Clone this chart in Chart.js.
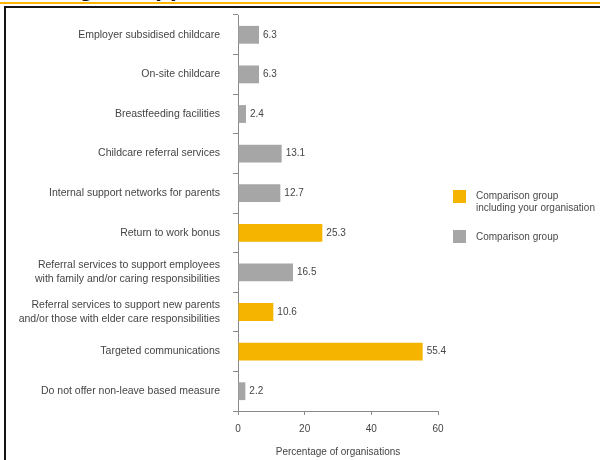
<!DOCTYPE html>
<html>
<head>
<meta charset="utf-8">
<script src="https://cdn.jsdelivr.net/npm/chart.js@4/dist/chart.umd.min.js"></script>
<style>
  html, body { margin: 0; padding: 0; background: #fff; }
  #wrap { position: relative; width: 600px; height: 460px; overflow: hidden; background: #fff; font-family: "Liberation Sans", Arial, sans-serif; }
  #title { position: absolute; left: -17px; top: -26px; font: bold 24px "Liberation Sans", Arial, sans-serif; color: #111; white-space: nowrap; word-spacing: 27px; }
  #topline { position: absolute; left: 0; top: 2px; width: 600px; height: 2px; background: #ffb600; }
  #frame { position: absolute; left: 4px; top: 6px; width: 700px; height: 600px; border-left: 2px solid #151515; border-top: 2px solid #151515; box-sizing: border-box; }
  #chart { position: absolute; left: 0; top: 0; }
  .lg { position: absolute; font-size: 10px; color: #4a4a4a; line-height: 12px; }
  .sw { position: absolute; width: 13px; height: 13px; }
</style>
</head>
<body>
<div id="wrap">
  <div id="title">Parenting support</div>
  <div id="topline"></div>
  <div id="frame"></div>
  <canvas id="chart" width="600" height="460"></canvas>
  <div class="sw" style="left:453px;top:190px;background:#f4b400"></div>
  <div class="lg" style="left:476px;top:190px">Comparison group<br>including your organisation</div>
  <div class="sw" style="left:453px;top:230px;background:#a6a6a6"></div>
  <div class="lg" style="left:476px;top:231px">Comparison group</div>
</div>
<script>
const categories = [
  "Employer subsidised childcare",
  "On-site childcare",
  "Breastfeeding facilities",
  "Childcare referral services",
  "Internal support networks for parents",
  "Return to work bonus",
  ["Referral services to support employees", "with family and/or caring responsibilities"],
  ["Referral services to support new parents", "and/or those with elder care responsibilities"],
  "Targeted communications",
  "Do not offer non-leave based measure"
];
const yourOrgGroup = [null, null, null, null, null, 25.3, null, 10.6, 55.4, null];
const comparisonGroup = [6.3, 6.3, 2.4, 13.1, 12.7, null, 16.5, null, null, 2.2];
const xTicks = [0, 20, 40, 60];
const xTitle = "Percentage of organisations";

const FONT = "'Liberation Sans', Arial, sans-serif";
const TEXT = "#454545";
const AXIS = "#8a8a8a";

const valueLabels = {
  id: "valueLabels",
  afterDatasetsDraw(chart) {
    const ctx = chart.ctx;
    ctx.save();
    ctx.font = "10px " + FONT;
    ctx.fillStyle = TEXT;
    ctx.textBaseline = "middle";
    ctx.textAlign = "left";
    chart.data.datasets.forEach((ds, di) => {
      const meta = chart.getDatasetMeta(di);
      meta.data.forEach((el, i) => {
        const v = ds.data[i];
        if (v === null || v === undefined) return;
        ctx.fillText(v.toFixed(1), el.x + 4, el.y);
      });
    });
    ctx.restore();
  }
};

new Chart(document.getElementById("chart"), {
  type: "bar",
  data: {
    labels: categories,
    datasets: [
      { label: "Comparison group including your organisation", data: yourOrgGroup, backgroundColor: "#f4b400" },
      { label: "Comparison group", data: comparisonGroup, backgroundColor: "#a6a6a6" }
    ]
  },
  options: {
    indexAxis: "y",
    responsive: false,
    animation: false,
    devicePixelRatio: 1,
    layout: { padding: { top: 15, right: 162, left: 0, bottom: 0 } },
    datasets: { bar: { grouped: false, categoryPercentage: 1, barPercentage: 0.45, skipNull: true } },
    plugins: { legend: { display: false }, tooltip: { enabled: false } },
    scales: {
      x: {
        min: 0, max: 60,
        afterBuildTicks(s) { s.ticks = xTicks.map(v => ({ value: v })); },
        afterFit(s) { s.height = 49; s.paddingLeft = 0; s.paddingRight = 0; },
        border: { display: true, color: AXIS, width: 1 },
        grid: { display: true, drawOnChartArea: false, drawTicks: true, tickLength: 4, color: AXIS },
        ticks: { font: { family: FONT, size: 10 }, color: TEXT, padding: 8 },
        title: { display: true, text: xTitle, font: { family: FONT, size: 10 }, color: TEXT, padding: { top: 4, bottom: 2 } }
      },
      y: {
        afterFit(s) { s.width = 238; s.paddingTop = 0; s.paddingBottom = 0; },
        border: { display: true, color: AXIS, width: 1 },
        grid: { display: true, drawOnChartArea: false, drawTicks: true, tickLength: 5, color: AXIS, offset: true },
        ticks: { font: { family: FONT, size: 10.5, lineHeight: 1.3 }, color: TEXT, padding: 13, autoSkip: false }
      }
    }
  },
  plugins: [valueLabels]
});
</script>
</body>
</html>
